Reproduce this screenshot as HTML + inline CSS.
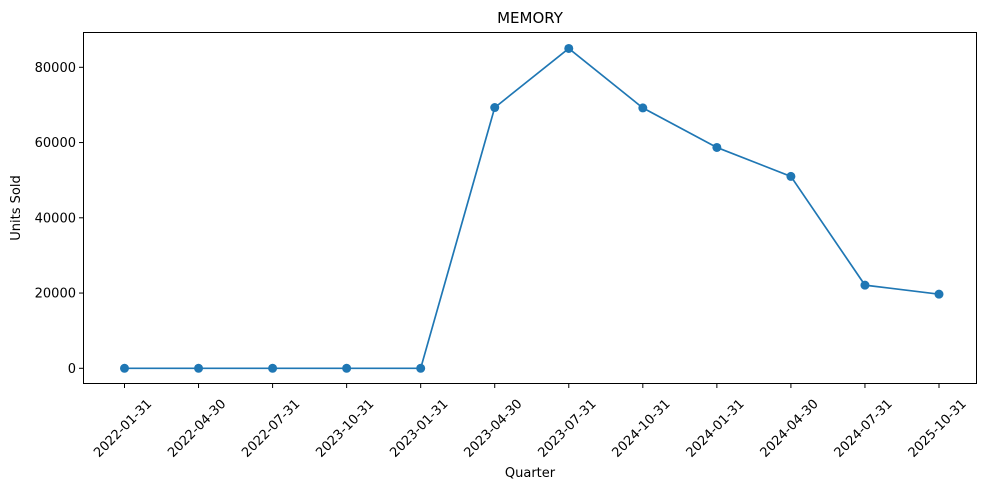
<!DOCTYPE html>
<html><head><meta charset="utf-8"><style>
body{margin:0;background:#fff;font-family:"Liberation Sans","DejaVu Sans",sans-serif;}
svg text{font-family:"DejaVu Sans","Liberation Sans",sans-serif;font-size:13px;fill:#000;}
</style></head><body>
<svg id="chart" width="989" height="490" viewBox="0 0 989 490" xmlns="http://www.w3.org/2000/svg">
<rect x="0" y="0" width="989" height="490" fill="#fff"/>
<text x="530" y="23" text-anchor="middle" style="font-size:15px">MEMORY</text>
<g id="grid"></g>
<g id="series"></g>
<rect x="83.5" y="32.5" width="893" height="351" fill="none" stroke="#000" stroke-width="1"/>
<text x="530" y="477" text-anchor="middle">Quarter</text>
<text transform="translate(20,208) rotate(-90)" text-anchor="middle">Units Sold</text>
</svg>
<script>
const categories = ["2022-01-31","2022-04-30","2022-07-31","2023-10-31","2023-01-31","2023-04-30","2023-07-31","2024-10-31","2024-01-31","2024-04-30","2024-07-31","2025-10-31"];
const unitsSold = [0,0,0,0,0,69300,85000,69200,58700,51000,22100,19700];
const yTicks = [0,20000,40000,60000,80000];
const ns="http://www.w3.org/2000/svg";
const svg=document.getElementById('chart');
const g=document.getElementById('grid');
const s=document.getElementById('series');
const x0=124.5, x1=939;
function xPos(i){return x0+(x1-x0)*i/(categories.length-1);}
function yPos(v){return 368.3-(368.3-67.3)*v/80000;}
function mk(tag,attrs,parent){const e=document.createElementNS(ns,tag);for(const k in attrs)e.setAttribute(k,attrs[k]);parent.appendChild(e);return e;}
yTicks.forEach(v=>{
  const y=yPos(v);
  const t=mk('line',{x1:79,x2:83.5,y1:y,y2:y,stroke:'#000'},g);
  
  
  const l=mk('text',{x:76,y:y+4.5,'text-anchor':'end'},g);
  
  
  l.textContent=v;
});
categories.forEach((c,i)=>{
  const x=xPos(i);
  const t=mk('line',{x1:x,x2:x,y1:383.5,y2:388,stroke:'#000'},g);
  
  
  const l=mk('text',{x:0,y:4.5,'text-anchor':'middle',transform:`translate(${x-2},${428}) rotate(-45)`},g);
  
  
  l.textContent=c;
});
const pts=unitsSold.map((v,i)=>xPos(i)+','+yPos(v)).join(' ');
const line=mk('polyline',{points:pts,fill:'none',stroke:'#1f77b4','stroke-width':1.7},s);


unitsSold.forEach((v,i)=>{
  const c=mk('circle',{cx:xPos(i),cy:yPos(v),r:4.5,fill:'#1f77b4'},s);
  
  
});
</script>
</body></html>
